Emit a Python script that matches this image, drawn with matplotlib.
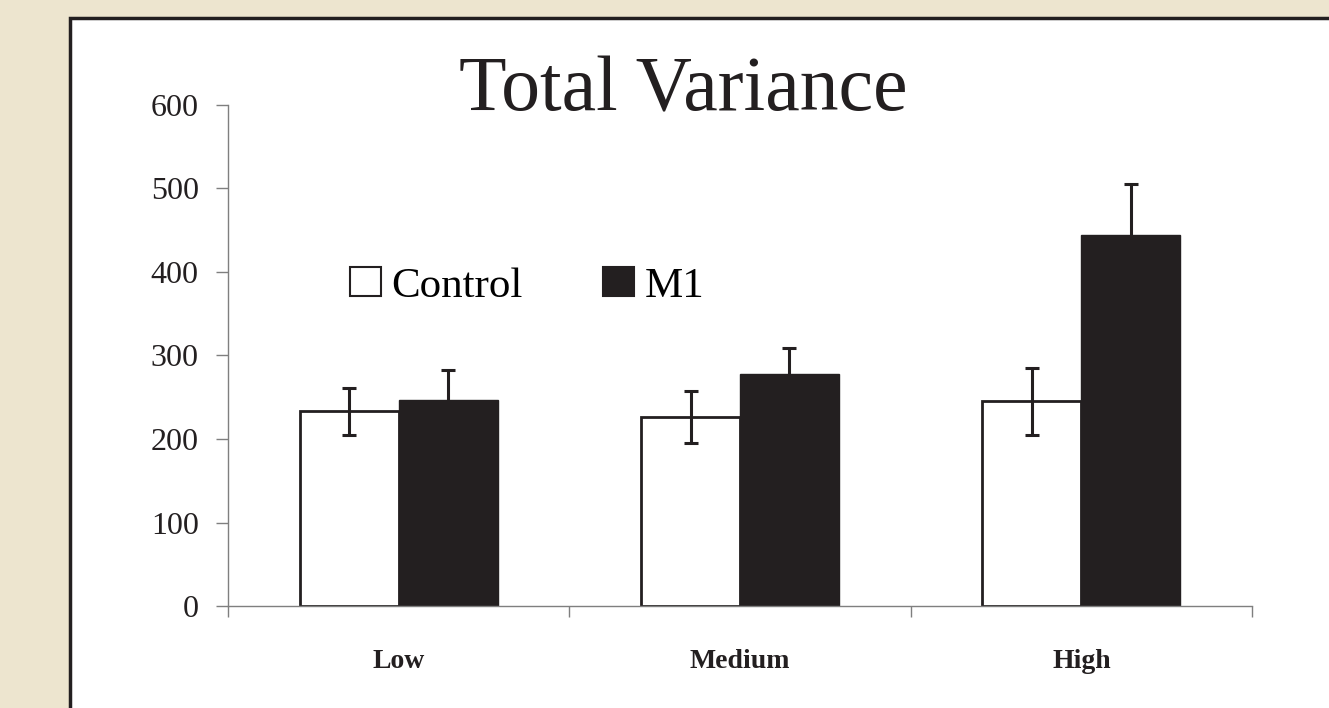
import matplotlib
matplotlib.use("Agg")
import matplotlib.pyplot as plt
from matplotlib.patches import Rectangle, Patch

# data
groups = ["Low", "Medium", "High"]
control = [233, 226, 245]
control_err = [28, 31, 40]
m1 = [247, 278, 444]
m1_err = [36, 31, 61]
yticks = [0, 100, 200, 300, 400, 500, 600]

ink = "#231F20"
beige = "#EDE5CF"
grey = "#7f7f7f"
serif = "Liberation Serif"

W, H = 1329, 708
fig = plt.figure(figsize=(W / 100, H / 100), dpi=100)
fig.patch.set_facecolor(beige)

# white panel with dark frame, running off the right and bottom edges
panel = Rectangle((70 / W, -0.2), 1.2, 1 - 18 / H + 0.2, transform=fig.transFigure,
                  facecolor="white", edgecolor=ink, linewidth=2.5, zorder=-5)
fig.patches.append(panel)

ax = fig.add_axes([228 / W, 1 - 606 / H, (1252 - 228) / W, (606 - 105) / H])
ax.set_facecolor("none")

x = [i + 0.5 for i in range(len(groups))]
bw = 0.29
xc = [v - bw / 2 for v in x]
xm = [v + bw / 2 for v in x]

ax.bar(xc, control, width=bw, color="white", edgecolor=ink, linewidth=2, zorder=2)
ax.bar(xm, m1, width=bw, color=ink, edgecolor=ink, linewidth=1, zorder=2)
ax.errorbar(xc, control, yerr=control_err, fmt="none", ecolor=ink, elinewidth=2.2,
            capsize=5, capthick=2.2, zorder=3)
ax.errorbar(xm, m1, yerr=m1_err, fmt="none", ecolor=ink, elinewidth=2.2,
            capsize=5, capthick=2.2, zorder=3)

ax.set_xlim(0, 3)
ax.set_ylim(0, 600)
ax.set_yticks(yticks)
ax.set_yticklabels([str(t) for t in yticks], fontfamily=serif, fontsize=23, color=ink)
ax.set_xticks([0, 1, 2, 3])
ax.set_xticklabels([])
ax.tick_params(axis="x", length=8, width=1, color=grey, direction="out")
ax.tick_params(axis="y", length=9, width=1, color=grey, pad=12)

# category names sit centred under each group
for xi, name in zip(x, groups):
    ax.text(xi, (606 - 668) / 501, name, transform=ax.get_xaxis_transform(),
            ha="center", va="baseline", fontfamily=serif, fontsize=20,
            fontweight="bold", color=ink)

for s in ["top", "right"]:
    ax.spines[s].set_visible(False)
for s in ["left", "bottom"]:
    ax.spines[s].set_color(grey)
    ax.spines[s].set_linewidth(1)

handles = [Patch(facecolor="white", edgecolor=ink, linewidth=1.5, label="Control"),
           Patch(facecolor=ink, edgecolor=ink, linewidth=1.5, label="M1")]
ax.legend(handles=handles, loc="center left", bbox_to_anchor=(0.357, 383),
          bbox_transform=ax.transData, ncol=2, frameon=False,
          prop={"family": serif, "size": 31}, handlelength=0.72, handleheight=0.66,
          handletextpad=0.25, columnspacing=1.85, borderpad=0, borderaxespad=0)

fig.text(683 / W, 1 - 111 / H, "Total Variance", ha="center", va="baseline",
         fontfamily=serif, fontsize=56, color=ink)

fig.savefig("out.png", dpi=100, facecolor=fig.get_facecolor())
